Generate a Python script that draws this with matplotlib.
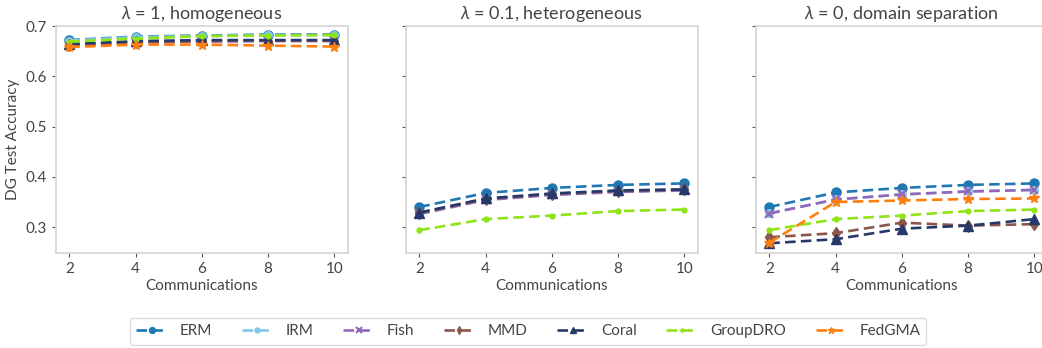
import matplotlib
matplotlib.use("Agg")
import matplotlib.pyplot as plt

plt.rcParams['font.family'] = ['Lato', 'DejaVu Sans']
plt.rcParams['mathtext.fontset'] = 'custom'
plt.rcParams['mathtext.it'] = 'Lato:italic'
plt.rcParams['mathtext.rm'] = 'Lato'

comms = [2, 4, 6, 8, 10]
methods = ["ERM", "IRM", "Fish", "MMD", "Coral", "GroupDRO", "FedGMA"]
titles = [r"$\lambda$ = 1, homogeneous", r"$\lambda$ = 0.1, heterogeneous", r"$\lambda$ = 0, domain separation"]

# lambda = 1
erm_1      = [0.672, 0.679, 0.681, 0.683, 0.683]
irm_1      = [0.671, 0.678, 0.680, 0.682, 0.682]
fish_1     = [0.661, 0.667, 0.669, 0.670, 0.670]
mmd_1      = [0.662, 0.668, 0.670, 0.671, 0.671]
coral_1    = [0.664, 0.670, 0.672, 0.672, 0.672]
groupdro_1 = [0.669, 0.675, 0.680, 0.681, 0.682]
fedgma_1   = [0.658, 0.663, 0.663, 0.661, 0.659]

# lambda = 0.1
erm_2      = [0.340, 0.368, 0.378, 0.384, 0.387]
irm_2      = [0.328, 0.356, 0.366, 0.371, 0.374]
fish_2     = [0.326, 0.354, 0.364, 0.370, 0.373]
mmd_2      = [0.328, 0.356, 0.366, 0.372, 0.375]
coral_2    = [0.329, 0.357, 0.367, 0.373, 0.375]
groupdro_2 = [0.294, 0.316, 0.323, 0.332, 0.335]
fedgma_2   = [None] * 5

# lambda = 0
erm_3      = [0.340, 0.369, 0.378, 0.384, 0.387]
irm_3      = [0.328, 0.355, 0.365, 0.371, 0.374]
fish_3     = [0.327, 0.355, 0.365, 0.371, 0.374]
mmd_3      = [0.280, 0.288, 0.309, 0.303, 0.306]
coral_3    = [0.268, 0.276, 0.297, 0.303, 0.316]
groupdro_3 = [0.294, 0.316, 0.323, 0.332, 0.335]
fedgma_3   = [0.269, 0.350, 0.353, 0.356, 0.357]

panels = [
    [erm_1, irm_1, fish_1, mmd_1, coral_1, groupdro_1, fedgma_1],
    [erm_2, irm_2, fish_2, mmd_2, coral_2, groupdro_2, fedgma_2],
    [erm_3, irm_3, fish_3, mmd_3, coral_3, groupdro_3, fedgma_3],
]

colors = ["#1f77b4", "#82c6e6", "#9467bd", "#8c564b", "#253a6b", "#8ee414", "#ff7f0e"]
markers = ["o", "o", "x", "d", "^", ".", "*"]
msizes = [6.5, 5.5, 6, 6.5, 6.5, 7, 7.5]

W, H = 1042, 348
fig = plt.figure(figsize=(W / 100, H / 100), dpi=100)
text_c = "#444444"
spine_c = "#d4d4d4"

lefts = [56, 406, 756]
axes = []
for i, lp in enumerate(lefts):
    ax = fig.add_axes([lp / W, (H - 253.3) / H, 291.7 / W, (253.3 - 25.5) / H])
    axes.append(ax)
    data = panels[i]
    for j, m in enumerate(methods):
        vals = data[j]
        if vals[0] is None:
            vals = [float('nan')] * 5
        ax.plot(comms, vals, linestyle="--", color=colors[j], marker=markers[j],
                markersize=msizes[j], linewidth=1.9, markeredgewidth=1.5 if markers[j] == "x" else 1,
                label=m, dashes=(4, 2))
    ax.set_xlim(1.6, 10.4)
    ax.set_ylim(0.248, 0.701)
    ax.set_xticks(comms)
    ax.set_yticks([0.3, 0.4, 0.5, 0.6, 0.7])
    ax.set_title(titles[i], fontsize=13, color=text_c, pad=5)
    ax.set_xlabel("Communications", fontsize=11, color=text_c, labelpad=2)
    for s in ax.spines.values():
        s.set_color(spine_c)
        s.set_linewidth(1.2)
    ax.tick_params(colors="#555555", labelcolor=text_c, labelsize=11, length=3, width=0.8)
    if i == 0:
        ax.set_ylabel("DG Test Accuracy", fontsize=11, color=text_c)
    else:
        ax.tick_params(labelleft=False)

handles, labels = axes[0].get_legend_handles_labels()
leg = fig.legend(handles, labels, loc="lower center", bbox_to_anchor=(0.507, -0.012),
                 ncol=7, fontsize=11, frameon=True, handlelength=2.0, columnspacing=1.95,
                 borderpad=0.4, handletextpad=0.85, markerscale=0.65)
leg.get_frame().set_edgecolor(spine_c)
for t in leg.get_texts():
    t.set_color(text_c)

fig.savefig("out.png", dpi=100)
